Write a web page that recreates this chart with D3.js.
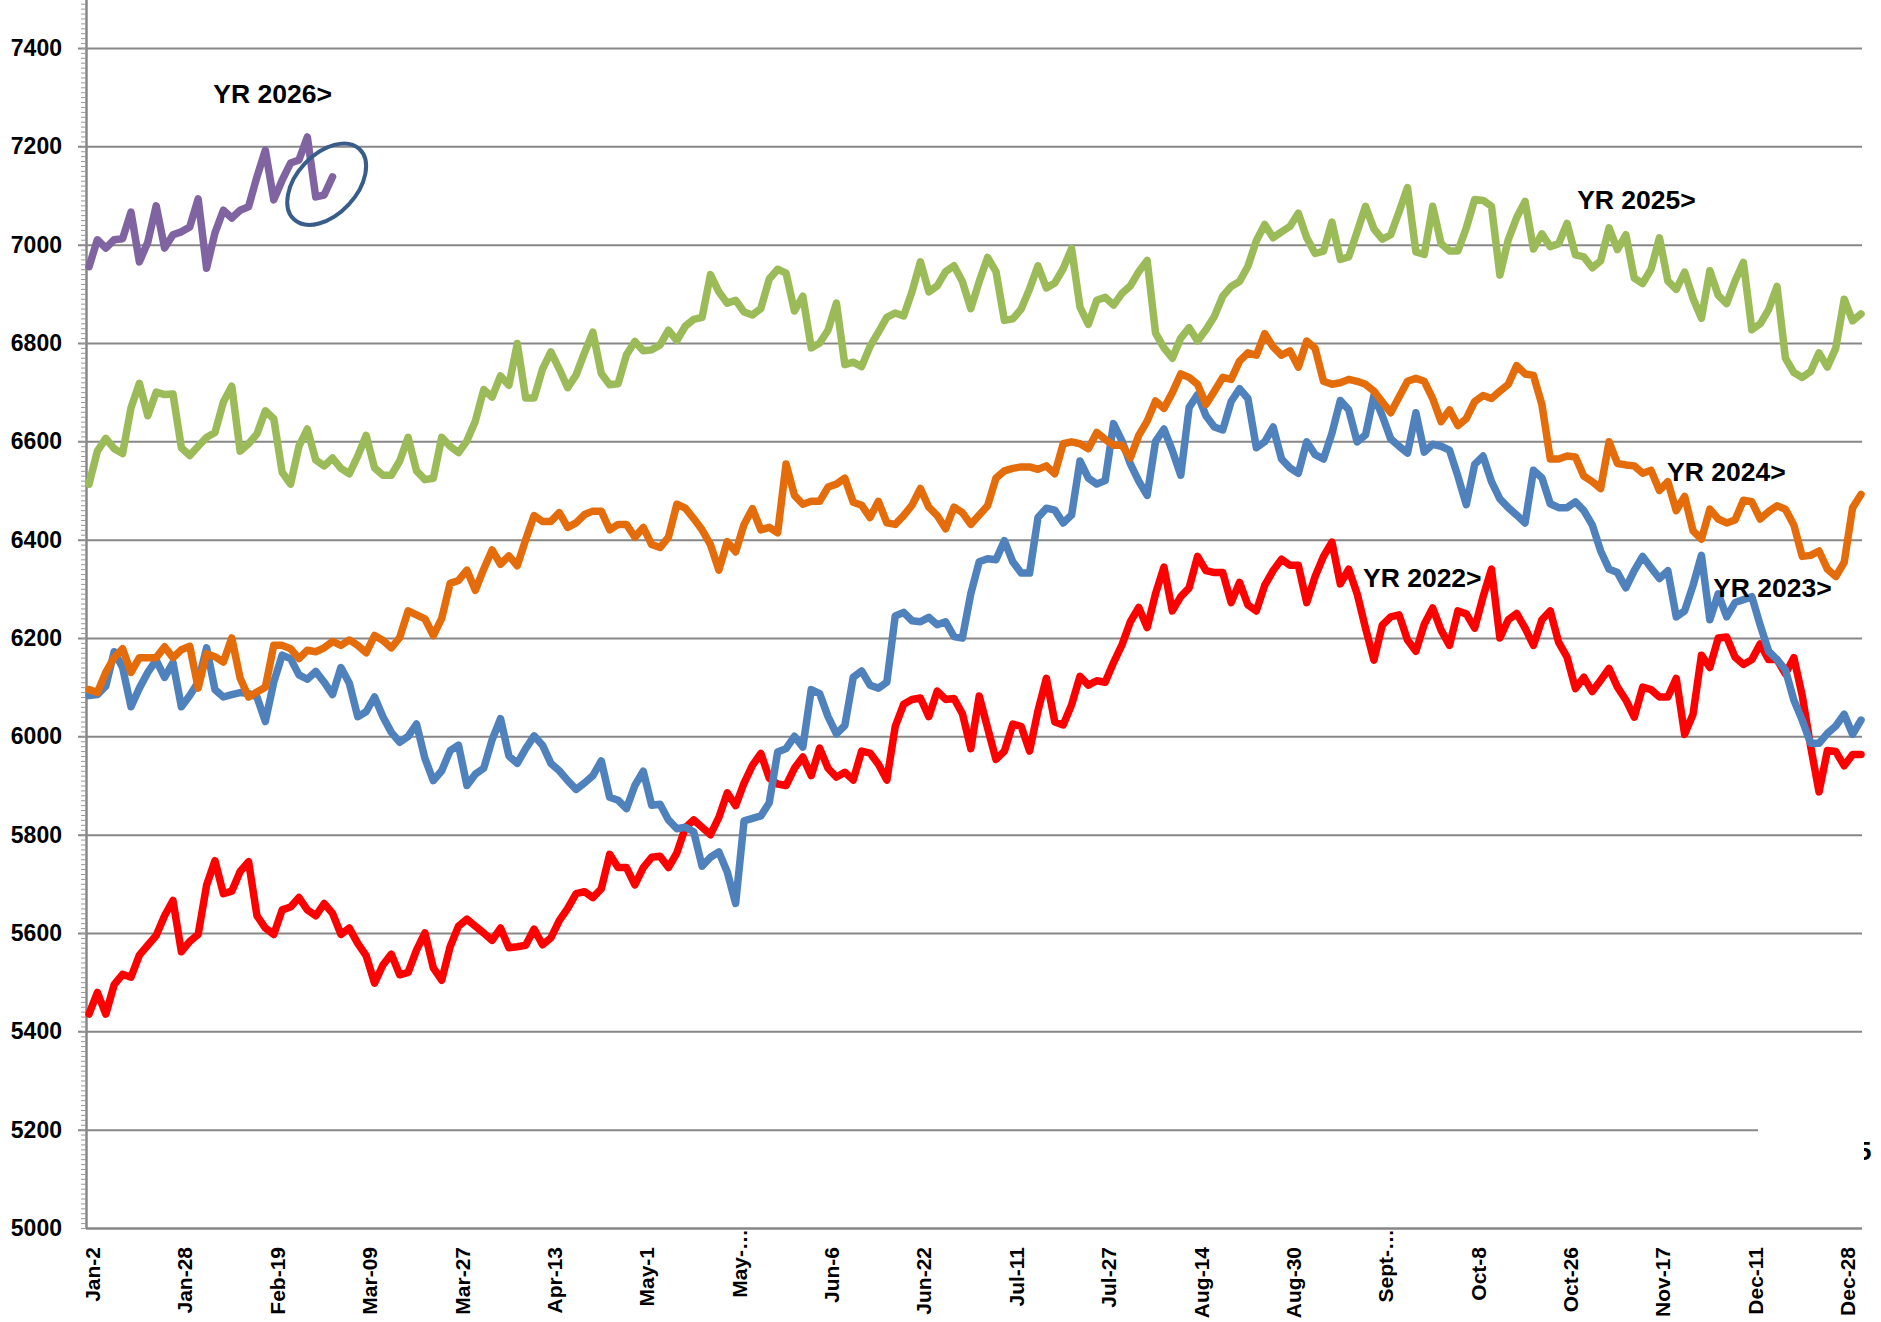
<!DOCTYPE html>
<html>
<head>
<meta charset="utf-8">
<script src="https://cdn.jsdelivr.net/npm/d3@7"></script>
<style>
  html, body { margin: 0; padding: 0; background: #fff; }
  svg { display: block; }
  text { font-family: "Liberation Sans", Arial, sans-serif; font-weight: bold; fill: #000; }
</style>
</head>
<body>
<svg width="1881" height="1322"></svg>
<script>
'use strict';

// one label every 11 points along the category axis
var tickLabels = ["Jan-2", "Jan-28", "Feb-19", "Mar-09", "Mar-27", "Apr-13", "May-1", "May-\u2026",
  "Jun-6", "Jun-22", "Jul-11", "Jul-27", "Aug-14", "Aug-30", "Sept-\u2026", "Oct-8", "Oct-26",
  "Nov-17", "Dec-11", "Dec-28"];
var tickEvery = 11;
var yTicks = [5000, 5200, 5400, 5600, 5800, 6000, 6200, 6400, 6600, 6800, 7000, 7200, 7400];

var yr2022 = [
  5435, 5479, 5435, 5495, 5516, 5510, 5555, 5575, 5595, 5635,
  5666, 5562, 5583, 5597, 5697, 5747, 5680, 5685, 5725, 5745,
  5635, 5610, 5597, 5647, 5653, 5672, 5647, 5635, 5660, 5640,
  5597, 5610, 5579, 5554, 5498, 5535, 5557, 5515, 5520, 5565,
  5600, 5529, 5504, 5572, 5614, 5628, 5614, 5600, 5585, 5610,
  5570, 5572, 5575, 5608, 5576, 5590, 5625, 5650, 5680, 5684,
  5672, 5690, 5760, 5733, 5733, 5698, 5733, 5754, 5756, 5733,
  5763, 5814, 5830, 5815, 5800, 5835, 5885, 5859, 5905, 5941,
  5965, 5915, 5903, 5900, 5935, 5958, 5920, 5976, 5935, 5917,
  5927, 5911, 5970, 5966, 5943, 5911, 6020, 6065, 6075, 6078,
  6040, 6092, 6075, 6077, 6046, 5975, 6082, 6017, 5953, 5970,
  6025, 6020, 5970, 6052, 6118, 6029, 6023, 6064, 6122, 6104,
  6113, 6110, 6150, 6186, 6233, 6262, 6221, 6290, 6344, 6255,
  6284, 6302, 6366, 6337, 6333, 6333, 6272, 6313, 6267, 6255,
  6307, 6337, 6360, 6348, 6348, 6272, 6325, 6366, 6395, 6310,
  6340, 6290, 6220, 6155, 6226, 6243, 6247, 6196, 6173, 6228,
  6261, 6216, 6185, 6255, 6249, 6220, 6284, 6340, 6200, 6237,
  6250, 6220, 6185, 6237, 6255, 6191, 6161, 6097, 6120, 6091,
  6114, 6138, 6100, 6074, 6039, 6100, 6095, 6080, 6080, 6118,
  6004, 6045, 6165, 6140, 6200, 6202, 6161, 6146, 6156, 6188,
  6156, 6156, 6127, 6160, 6083, 5980, 5887, 5971, 5969, 5940,
  5963, 5963];

var yr2023 = [
  6083, 6085, 6102, 6172, 6140, 6060, 6098, 6130, 6155, 6120,
  6150, 6060, 6083, 6110, 6180, 6095, 6080, 6085, 6089, 6087,
  6080, 6030, 6110, 6165, 6158, 6125, 6116, 6132, 6110, 6085,
  6140, 6108, 6040, 6050, 6080, 6040, 6008, 5988, 6000, 6025,
  5955, 5910, 5930, 5971, 5982, 5900, 5923, 5935, 5993, 6036,
  5960, 5945, 5975, 6001, 5982, 5945, 5930, 5910, 5892, 5905,
  5920, 5950, 5876, 5870, 5853, 5900, 5929, 5860, 5862, 5830,
  5812, 5815, 5806, 5736, 5754, 5765, 5724, 5660, 5828, 5833,
  5838, 5865, 5968, 5975, 6000, 5978, 6095, 6087, 6040, 6005,
  6022, 6120, 6133, 6104, 6098, 6110, 6245, 6252, 6235, 6233,
  6242, 6227, 6233, 6203, 6200, 6290, 6355, 6361, 6359, 6398,
  6355, 6332, 6332, 6445, 6464, 6460, 6434, 6450, 6560, 6525,
  6513, 6520, 6636, 6601, 6554, 6519, 6490, 6600, 6625, 6581,
  6531, 6669, 6695, 6652, 6629, 6623, 6681, 6707, 6687, 6587,
  6599, 6629, 6564, 6546, 6535, 6599, 6573, 6564, 6616, 6683,
  6664, 6599, 6613, 6693, 6652, 6605, 6590, 6576, 6658, 6578,
  6594, 6590, 6582, 6529, 6471, 6553, 6570, 6518, 6483, 6465,
  6450, 6434, 6541, 6526, 6473, 6465, 6465, 6477, 6459, 6430,
  6377, 6340, 6333, 6302, 6337, 6366, 6343, 6321, 6337, 6243,
  6255, 6307, 6368, 6237, 6290, 6243, 6272, 6278, 6284, 6226,
  6173, 6156, 6135, 6074, 6033, 5986, 5986, 6006, 6021, 6045,
  6004, 6033];

var yr2024 = [
  6095, 6089, 6130, 6160, 6178, 6130, 6160, 6160, 6160, 6182,
  6160, 6176, 6183, 6098, 6168, 6162, 6151, 6200, 6118, 6080,
  6090, 6100, 6185, 6185, 6178, 6158, 6175, 6172, 6180, 6193,
  6185, 6196, 6185, 6170, 6205, 6195, 6180, 6201, 6255, 6247,
  6239, 6205, 6240, 6311, 6317, 6338, 6297, 6340, 6379, 6350,
  6367, 6347, 6400, 6449, 6437, 6437, 6455, 6425, 6434, 6451,
  6458, 6458, 6420, 6431, 6431, 6405, 6425, 6390, 6384, 6405,
  6472, 6464, 6443, 6420, 6390, 6338, 6396, 6375, 6431, 6463,
  6420, 6425, 6414, 6554, 6490, 6472, 6478, 6478, 6507, 6513,
  6525, 6476, 6470, 6445, 6478, 6434, 6431, 6449, 6470, 6504,
  6466, 6449, 6422, 6466, 6455, 6431, 6450, 6469, 6525, 6540,
  6545, 6548, 6548, 6543, 6550, 6534, 6595, 6599, 6595, 6585,
  6618, 6604, 6592, 6592, 6566, 6612, 6641, 6682, 6667, 6699,
  6737, 6730, 6716, 6675, 6702, 6730, 6726, 6763, 6780, 6775,
  6819, 6792, 6775, 6784, 6751, 6804, 6789, 6722, 6716, 6719,
  6726, 6722, 6716, 6702, 6680, 6658, 6690, 6722, 6728, 6722,
  6687, 6640, 6664, 6632, 6646, 6681, 6693, 6687, 6702, 6716,
  6754, 6737, 6734, 6675, 6564, 6564, 6570, 6568, 6529, 6518,
  6504, 6599, 6555, 6552, 6550, 6535, 6541, 6500, 6518, 6459,
  6488, 6418, 6401, 6462, 6442, 6434, 6440, 6480, 6477, 6442,
  6457, 6469, 6462, 6430, 6366, 6368, 6377, 6340, 6325, 6354,
  6465, 6492];

var yr2025 = [
  6513, 6580, 6606, 6585, 6575, 6668, 6718, 6652, 6700, 6695,
  6696, 6587, 6571, 6590, 6608, 6618, 6680, 6712, 6580, 6595,
  6615, 6662, 6646, 6537, 6513, 6590, 6625, 6562, 6550, 6566,
  6545, 6534, 6570, 6612, 6546, 6531, 6531, 6560, 6608, 6540,
  6522, 6525, 6608, 6590, 6577, 6601, 6641, 6705, 6690, 6733,
  6714, 6799, 6688, 6688, 6747, 6782, 6747, 6709, 6735, 6780,
  6822, 6738, 6715, 6717, 6776, 6803, 6784, 6786, 6796, 6826,
  6805, 6834, 6848, 6852, 6939, 6904, 6881, 6887, 6863, 6857,
  6870, 6930, 6950, 6942, 6865, 6895, 6790, 6800, 6826, 6881,
  6756, 6761, 6752, 6793, 6822, 6852, 6861, 6855, 6904, 6965,
  6904, 6916, 6945, 6957, 6925, 6870, 6925, 6974, 6945, 6846,
  6849, 6869, 6910, 6957, 6912, 6922, 6951, 6992, 6873, 6838,
  6887, 6893, 6877, 6901, 6916, 6945, 6968, 6820, 6790, 6769,
  6810, 6831, 6804, 6827, 6854, 6895, 6915, 6925, 6956, 7008,
  7041, 7014, 7026, 7037, 7064, 7014, 6982, 6987, 7046, 6970,
  6975, 7026, 7078, 7032, 7011, 7020, 7067, 7116, 6985, 6980,
  7078, 7002, 6987, 6987, 7034, 7092, 7090, 7078, 6938, 7010,
  7055, 7088, 6991, 7022, 6996, 7002, 7043, 6979, 6975, 6953,
  6967, 7034, 6990, 7020, 6932, 6921, 6950, 7014, 6926, 6909,
  6944, 6891, 6850, 6947, 6897, 6880, 6926, 6964, 6827, 6839,
  6868, 6915, 6769, 6740, 6730, 6742, 6780, 6751, 6790, 6889,
  6845, 6859];

var yr2026 = [
  6955, 7010, 6993, 7010, 7012, 7066, 6965, 7005, 7079, 6993,
  7020, 7026, 7036, 7093, 6952, 7024, 7070, 7054, 7070, 7077,
  7138, 7192, 7091, 7131, 7166, 7172, 7219, 7097, 7101, 7138];

// text boxes placed in data units: category index, value at baseline
var notes = [
  {text: "YR 2026>", at: 14.8, value: 7288},
  {text: "YR 2025>", at: 177.2, value: 7072},
  {text: "YR 2024>", at: 187.9, value: 6519},
  {text: "YR 2023>", at: 193.4, value: 6283},
  {text: "YR 2022>", at: 151.7, value: 6304}
];

var svg = d3.select("svg"),
    left = 86, right = 1862, bottom = 1228,
    gridColor = "#878787";

var x = d3.scaleLinear().domain([0, yr2022.length - 1]).range([89, 1861]),
    y = d3.scaleLinear().domain([5000, 7500]).range([bottom, -1.2]);

svg.append("rect").attr("width", 1881).attr("height", 1322).attr("fill", "#fff");

// horizontal gridlines (they poke out left of the axis as major ticks)
svg.append("g")
    .attr("transform", "translate(78,0)")
    .call(d3.axisLeft(y).tickValues(yTicks.slice(1)).tickSize(-(right - 78)).tickFormat(""))
    .call(function(g) { g.select(".domain").remove(); })
    .selectAll("line")
      .attr("stroke", gridColor)
      .attr("stroke-width", 2);

// minor ticks + the value axis line
svg.append("g")
    .attr("transform", "translate(" + left + ",0)")
    .call(d3.axisLeft(y).tickValues(d3.range(5000, 7501, 10)).tickSize(5).tickSizeOuter(0).tickFormat(""))
    .call(function(g) {
      g.select(".domain").attr("stroke", gridColor).attr("stroke-width", 2.5);
      g.selectAll("line").attr("stroke", "#9a9a9a").attr("stroke-width", 1);
    });

// value labels
svg.append("g")
    .attr("transform", "translate(" + left + ",0)")
    .call(d3.axisLeft(y).tickValues(yTicks).tickSize(0).tickPadding(24).tickFormat(d3.format("d")))
    .call(function(g) { g.select(".domain").remove(); })
    .selectAll("text")
      .attr("font-size", 23)
      .attr("font-family", "'Liberation Sans', Arial, sans-serif")
      .attr("font-weight", "bold")
      .attr("fill", "#000");

// category axis, labels turned upright
svg.append("g")
    .attr("transform", "translate(0," + bottom + ")")
    .call(d3.axisBottom(x)
      .tickValues(tickLabels.map(function(d, i) { return i * tickEvery; }))
      .tickSize(0).tickSizeOuter(0)
      .tickFormat(function(d) { return tickLabels[d / tickEvery]; }))
    .call(function(g) {
      g.select(".domain").attr("stroke", gridColor).attr("stroke-width", 2.5)
        .attr("d", "M" + left + ",0.5H" + right);
    })
    .selectAll("text")
      .attr("font-size", 21)
      .attr("font-family", "'Liberation Sans', Arial, sans-serif")
      .attr("font-weight", "bold")
      .attr("fill", "#000")
      .style("text-anchor", "end")
      .attr("transform", "rotate(-90)")
      .attr("y", 0)
      .attr("dy", "0.5em")
      .attr("x", function(d) { return /\u2026$/.test(tickLabels[d / tickEvery]) ? -1 : -19; });

var series = [
  {data: yr2022, color: "#FF0000"},
  {data: yr2023, color: "#4F81BD"},
  {data: yr2024, color: "#E46C0A"},
  {data: yr2025, color: "#9BBB59"},
  {data: yr2026, color: "#8064A2"}
];

var line = d3.line()
    .x(function(d, i) { return x(i); })
    .y(function(d) { return y(d); });

svg.append("g")
  .selectAll("path")
  .data(series)
  .enter().append("path")
    .attr("fill", "none")
    .attr("stroke", function(d) { return d.color; })
    .attr("stroke-width", 7.5)
    .attr("stroke-linejoin", "round")
    .attr("stroke-linecap", "round")
    .attr("d", function(d) { return line(d.data); });

// hand-drawn circle round the latest 2026 points
svg.append("ellipse")
    .attr("cx", x(28.3)).attr("cy", y(7123))
    .attr("rx", 48).attr("ry", 30)
    .attr("transform", "rotate(-47," + x(28.3) + "," + y(7123) + ")")
    .attr("fill", "none")
    .attr("stroke", "#385D8A")
    .attr("stroke-width", 4);

svg.append("g")
  .selectAll("text")
  .data(notes)
  .enter().append("text")
    .attr("x", function(d) { return x(d.at); })
    .attr("y", function(d) { return y(d.value); })
    .attr("font-size", 26.5)
    .text(function(d) { return d.text; });

// leftover of a text box at the right edge: it hides the end of the 5200 gridline
svg.append("text")
    .attr("x", 1857).attr("y", 1160)
    .attr("font-size", 26)
    .text("5");
svg.append("rect")
    .attr("x", 1758).attr("y", 1125)
    .attr("width", 106).attr("height", 50)
    .attr("fill", "#fff");
</script>
</body>
</html>
